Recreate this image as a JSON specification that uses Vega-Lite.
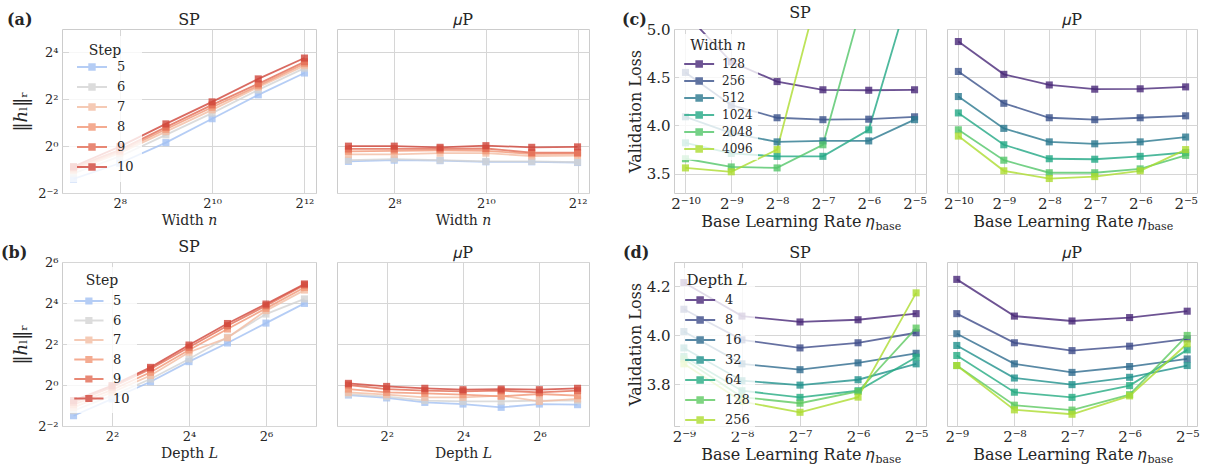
{
  "$schema": "https://vega.github.io/schema/vega-lite/v6.json",
  "padding": {"left": 0, "top": 4, "right": 0, "bottom": 0},
  "background": "white",
  "config": {
    "font": "DejaVu Serif",
    "view": {"stroke": "#cccccc", "strokeWidth": 1},
    "axis": {"domain": false, "ticks": false, "gridColor": "#d6d6d6", "gridWidth": 1, "labelColor": "#262626", "titleColor": "#262626", "titleFontWeight": "normal", "labelFontSize": 13, "titleFontSize": 14, "labelPadding": 4, "titlePadding": 3, "labelFlush": false, "labelOverlap": false},
    "title": {"fontSize": 16, "fontWeight": "normal", "color": "#262626", "offset": 1},
    "legend": {"titleFontWeight": "normal", "titleColor": "#262626", "labelColor": "#262626"}
  },
  "datasets": {
    "a": [
      {"param":"SP","step":5,"width":128,"norm":0.379},{"param":"SP","step":5,"width":256,"norm":0.603},{"param":"SP","step":5,"width":512,"norm":1.110},{"param":"SP","step":5,"width":1024,"norm":2.250},{"param":"SP","step":5,"width":2048,"norm":4.563},{"param":"SP","step":5,"width":4096,"norm":8.694},
      {"param":"SP","step":6,"width":128,"norm":0.447},{"param":"SP","step":6,"width":256,"norm":0.737},{"param":"SP","step":6,"width":512,"norm":1.395},{"param":"SP","step":6,"width":1024,"norm":2.657},{"param":"SP","step":6,"width":2048,"norm":5.278},{"param":"SP","step":6,"width":4096,"norm":10.06},
      {"param":"SP","step":7,"width":128,"norm":0.486},{"param":"SP","step":7,"width":256,"norm":0.812},{"param":"SP","step":7,"width":512,"norm":1.537},{"param":"SP","step":7,"width":1024,"norm":2.928},{"param":"SP","step":7,"width":2048,"norm":5.736},{"param":"SP","step":7,"width":4096,"norm":10.78},
      {"param":"SP","step":8,"width":128,"norm":0.511},{"param":"SP","step":8,"width":256,"norm":0.853},{"param":"SP","step":8,"width":512,"norm":1.647},{"param":"SP","step":8,"width":1024,"norm":3.160},{"param":"SP","step":8,"width":2048,"norm":5.979},{"param":"SP","step":8,"width":4096,"norm":11.47},
      {"param":"SP","step":9,"width":128,"norm":0.532},{"param":"SP","step":9,"width":256,"norm":0.895},{"param":"SP","step":9,"width":512,"norm":1.753},{"param":"SP","step":9,"width":1024,"norm":3.387},{"param":"SP","step":9,"width":2048,"norm":6.320},{"param":"SP","step":9,"width":4096,"norm":12.13},
      {"param":"SP","step":10,"width":128,"norm":0.547},{"param":"SP","step":10,"width":256,"norm":0.986},{"param":"SP","step":10,"width":512,"norm":1.932},{"param":"SP","step":10,"width":1024,"norm":3.706},{"param":"SP","step":10,"width":2048,"norm":7.311},{"param":"SP","step":10,"width":4096,"norm":13.55},
      {"param":"muP","step":5,"width":128,"norm":0.637},{"param":"muP","step":5,"width":256,"norm":0.660},{"param":"muP","step":5,"width":512,"norm":0.651},{"param":"muP","step":5,"width":1024,"norm":0.629},{"param":"muP","step":5,"width":2048,"norm":0.629},{"param":"muP","step":5,"width":4096,"norm":0.616},
      {"param":"muP","step":6,"width":128,"norm":0.660},{"param":"muP","step":6,"width":256,"norm":0.683},{"param":"muP","step":6,"width":512,"norm":0.660},{"param":"muP","step":6,"width":1024,"norm":0.637},{"param":"muP","step":6,"width":2048,"norm":0.637},{"param":"muP","step":6,"width":4096,"norm":0.624},
      {"param":"muP","step":7,"width":128,"norm":0.785},{"param":"muP","step":7,"width":256,"norm":0.785},{"param":"muP","step":7,"width":512,"norm":0.812},{"param":"muP","step":7,"width":1024,"norm":0.812},{"param":"muP","step":7,"width":2048,"norm":0.747},{"param":"muP","step":7,"width":4096,"norm":0.758},
      {"param":"muP","step":8,"width":128,"norm":0.858},{"param":"muP","step":8,"width":256,"norm":0.871},{"param":"muP","step":8,"width":512,"norm":0.883},{"param":"muP","step":8,"width":1024,"norm":0.871},{"param":"muP","step":8,"width":2048,"norm":0.796},{"param":"muP","step":8,"width":4096,"norm":0.801},
      {"param":"muP","step":9,"width":128,"norm":0.920},{"param":"muP","step":9,"width":256,"norm":0.920},{"param":"muP","step":9,"width":512,"norm":0.920},{"param":"muP","step":9,"width":1024,"norm":0.933},{"param":"muP","step":9,"width":2048,"norm":0.824},{"param":"muP","step":9,"width":4096,"norm":0.824},
      {"param":"muP","step":10,"width":128,"norm":1.0},{"param":"muP","step":10,"width":256,"norm":1.0},{"param":"muP","step":10,"width":512,"norm":0.966},{"param":"muP","step":10,"width":1024,"norm":1.014},{"param":"muP","step":10,"width":2048,"norm":0.966},{"param":"muP","step":10,"width":4096,"norm":0.979}
    ],
    "b": [
      {"param":"SP","step":5,"depth":2,"norm":0.354},{"param":"SP","step":5,"depth":4,"norm":0.624},{"param":"SP","step":5,"depth":8,"norm":1.117},{"param":"SP","step":5,"depth":16,"norm":2.204},{"param":"SP","step":5,"depth":32,"norm":4.141},{"param":"SP","step":5,"depth":64,"norm":8.111},{"param":"SP","step":5,"depth":128,"norm":15.78},
      {"param":"SP","step":6,"depth":2,"norm":0.420},{"param":"SP","step":6,"depth":4,"norm":0.697},{"param":"SP","step":6,"depth":8,"norm":1.223},{"param":"SP","step":6,"depth":16,"norm":2.412},{"param":"SP","step":6,"depth":32,"norm":5.028},{"param":"SP","step":6,"depth":64,"norm":11.00},{"param":"SP","step":6,"depth":128,"norm":18.38},
      {"param":"SP","step":7,"depth":2,"norm":0.470},{"param":"SP","step":7,"depth":4,"norm":0.779},{"param":"SP","step":7,"depth":8,"norm":1.376},{"param":"SP","step":7,"depth":16,"norm":3.031},{"param":"SP","step":7,"depth":32,"norm":4.925},{"param":"SP","step":7,"depth":64,"norm":12.38},{"param":"SP","step":7,"depth":128,"norm":24.76},
      {"param":"SP","step":8,"depth":2,"norm":0.514},{"param":"SP","step":8,"depth":4,"norm":0.847},{"param":"SP","step":8,"depth":8,"norm":1.537},{"param":"SP","step":8,"depth":16,"norm":3.272},{"param":"SP","step":8,"depth":32,"norm":6.634},{"param":"SP","step":8,"depth":64,"norm":13.36},{"param":"SP","step":8,"depth":128,"norm":27.09},
      {"param":"SP","step":9,"depth":2,"norm":0.555},{"param":"SP","step":9,"depth":4,"norm":0.927},{"param":"SP","step":9,"depth":8,"norm":1.717},{"param":"SP","step":9,"depth":16,"norm":3.580},{"param":"SP","step":9,"depth":32,"norm":7.413},{"param":"SP","step":9,"depth":64,"norm":14.62},{"param":"SP","step":9,"depth":128,"norm":29.45},
      {"param":"SP","step":10,"depth":2,"norm":0.590},{"param":"SP","step":10,"depth":4,"norm":0.979},{"param":"SP","step":10,"depth":8,"norm":1.815},{"param":"SP","step":10,"depth":16,"norm":3.864},{"param":"SP","step":10,"depth":32,"norm":8.0},{"param":"SP","step":10,"depth":64,"norm":15.45},{"param":"SP","step":10,"depth":128,"norm":30.49},
      {"param":"muP","step":5,"depth":2,"norm":0.712},{"param":"muP","step":5,"depth":4,"norm":0.646},{"param":"muP","step":5,"depth":8,"norm":0.555},{"param":"muP","step":5,"depth":16,"norm":0.525},{"param":"muP","step":5,"depth":32,"norm":0.470},{"param":"muP","step":5,"depth":64,"norm":0.525},{"param":"muP","step":5,"depth":128,"norm":0.514},
      {"param":"muP","step":6,"depth":2,"norm":0.737},{"param":"muP","step":6,"depth":4,"norm":0.674},{"param":"muP","step":6,"depth":8,"norm":0.590},{"param":"muP","step":6,"depth":16,"norm":0.574},{"param":"muP","step":6,"depth":32,"norm":0.574},{"param":"muP","step":6,"depth":64,"norm":0.590},{"param":"muP","step":6,"depth":128,"norm":0.590},
      {"param":"muP","step":7,"depth":2,"norm":0.779},{"param":"muP","step":7,"depth":4,"norm":0.722},{"param":"muP","step":7,"depth":8,"norm":0.660},{"param":"muP","step":7,"depth":16,"norm":0.660},{"param":"muP","step":7,"depth":32,"norm":0.697},{"param":"muP","step":7,"depth":64,"norm":0.574},{"param":"muP","step":7,"depth":128,"norm":0.624},
      {"param":"muP","step":8,"depth":2,"norm":0.871},{"param":"muP","step":8,"depth":4,"norm":0.779},{"param":"muP","step":8,"depth":8,"norm":0.753},{"param":"muP","step":8,"depth":16,"norm":0.722},{"param":"muP","step":8,"depth":32,"norm":0.683},{"param":"muP","step":8,"depth":64,"norm":0.737},{"param":"muP","step":8,"depth":128,"norm":0.697},
      {"param":"muP","step":9,"depth":2,"norm":1.0},{"param":"muP","step":9,"depth":4,"norm":0.871},{"param":"muP","step":9,"depth":8,"norm":0.824},{"param":"muP","step":9,"depth":16,"norm":0.807},{"param":"muP","step":9,"depth":32,"norm":0.824},{"param":"muP","step":9,"depth":64,"norm":0.779},{"param":"muP","step":9,"depth":128,"norm":0.824},
      {"param":"muP","step":10,"depth":2,"norm":1.057},{"param":"muP","step":10,"depth":4,"norm":0.953},{"param":"muP","step":10,"depth":8,"norm":0.895},{"param":"muP","step":10,"depth":16,"norm":0.853},{"param":"muP","step":10,"depth":32,"norm":0.871},{"param":"muP","step":10,"depth":64,"norm":0.853},{"param":"muP","step":10,"depth":128,"norm":0.895}
    ],
    "c": [
      {"param":"SP","width":128,"lr":0.0009765625,"loss":5.16},{"param":"SP","width":128,"lr":0.001953125,"loss":4.66},{"param":"SP","width":128,"lr":0.00390625,"loss":4.455},{"param":"SP","width":128,"lr":0.0078125,"loss":4.37},{"param":"SP","width":128,"lr":0.015625,"loss":4.365},{"param":"SP","width":128,"lr":0.03125,"loss":4.37},
      {"param":"SP","width":256,"lr":0.0009765625,"loss":4.55},{"param":"SP","width":256,"lr":0.001953125,"loss":4.21},{"param":"SP","width":256,"lr":0.00390625,"loss":4.08},{"param":"SP","width":256,"lr":0.0078125,"loss":4.06},{"param":"SP","width":256,"lr":0.015625,"loss":4.065},{"param":"SP","width":256,"lr":0.03125,"loss":4.09},
      {"param":"SP","width":512,"lr":0.0009765625,"loss":4.09},{"param":"SP","width":512,"lr":0.001953125,"loss":3.92},{"param":"SP","width":512,"lr":0.00390625,"loss":3.83},{"param":"SP","width":512,"lr":0.0078125,"loss":3.84},{"param":"SP","width":512,"lr":0.015625,"loss":3.84},{"param":"SP","width":512,"lr":0.03125,"loss":4.06},
      {"param":"SP","width":1024,"lr":0.0009765625,"loss":3.82},{"param":"SP","width":1024,"lr":0.001953125,"loss":3.71},{"param":"SP","width":1024,"lr":0.00390625,"loss":3.68},{"param":"SP","width":1024,"lr":0.0078125,"loss":3.68},{"param":"SP","width":1024,"lr":0.015625,"loss":3.955},{"param":"SP","width":1024,"lr":0.03125,"loss":5.56},
      {"param":"SP","width":2048,"lr":0.0009765625,"loss":3.655},{"param":"SP","width":2048,"lr":0.001953125,"loss":3.57},{"param":"SP","width":2048,"lr":0.00390625,"loss":3.56},{"param":"SP","width":2048,"lr":0.0078125,"loss":3.80},{"param":"SP","width":2048,"lr":0.015625,"loss":5.51},{"param":"SP","width":2048,"lr":0.03125,"loss":6.5},
      {"param":"SP","width":4096,"lr":0.0009765625,"loss":3.56},{"param":"SP","width":4096,"lr":0.001953125,"loss":3.52},{"param":"SP","width":4096,"lr":0.00390625,"loss":3.75},{"param":"SP","width":4096,"lr":0.0078125,"loss":5.57},{"param":"SP","width":4096,"lr":0.015625,"loss":6.5},{"param":"SP","width":4096,"lr":0.03125,"loss":6.5},
      {"param":"muP","width":128,"lr":0.0009765625,"loss":4.87},{"param":"muP","width":128,"lr":0.001953125,"loss":4.53},{"param":"muP","width":128,"lr":0.00390625,"loss":4.42},{"param":"muP","width":128,"lr":0.0078125,"loss":4.376},{"param":"muP","width":128,"lr":0.015625,"loss":4.38},{"param":"muP","width":128,"lr":0.03125,"loss":4.40},
      {"param":"muP","width":256,"lr":0.0009765625,"loss":4.56},{"param":"muP","width":256,"lr":0.001953125,"loss":4.23},{"param":"muP","width":256,"lr":0.00390625,"loss":4.08},{"param":"muP","width":256,"lr":0.0078125,"loss":4.06},{"param":"muP","width":256,"lr":0.015625,"loss":4.08},{"param":"muP","width":256,"lr":0.03125,"loss":4.10},
      {"param":"muP","width":512,"lr":0.0009765625,"loss":4.30},{"param":"muP","width":512,"lr":0.001953125,"loss":3.97},{"param":"muP","width":512,"lr":0.00390625,"loss":3.83},{"param":"muP","width":512,"lr":0.0078125,"loss":3.81},{"param":"muP","width":512,"lr":0.015625,"loss":3.83},{"param":"muP","width":512,"lr":0.03125,"loss":3.88},
      {"param":"muP","width":1024,"lr":0.0009765625,"loss":4.13},{"param":"muP","width":1024,"lr":0.001953125,"loss":3.80},{"param":"muP","width":1024,"lr":0.00390625,"loss":3.655},{"param":"muP","width":1024,"lr":0.0078125,"loss":3.65},{"param":"muP","width":1024,"lr":0.015625,"loss":3.68},{"param":"muP","width":1024,"lr":0.03125,"loss":3.72},
      {"param":"muP","width":2048,"lr":0.0009765625,"loss":3.955},{"param":"muP","width":2048,"lr":0.001953125,"loss":3.64},{"param":"muP","width":2048,"lr":0.00390625,"loss":3.51},{"param":"muP","width":2048,"lr":0.0078125,"loss":3.51},{"param":"muP","width":2048,"lr":0.015625,"loss":3.55},{"param":"muP","width":2048,"lr":0.03125,"loss":3.69},
      {"param":"muP","width":4096,"lr":0.0009765625,"loss":3.89},{"param":"muP","width":4096,"lr":0.001953125,"loss":3.53},{"param":"muP","width":4096,"lr":0.00390625,"loss":3.45},{"param":"muP","width":4096,"lr":0.0078125,"loss":3.47},{"param":"muP","width":4096,"lr":0.015625,"loss":3.53},{"param":"muP","width":4096,"lr":0.03125,"loss":3.75}
    ],
    "d": [
      {"param":"SP","depth":4,"lr":0.001953125,"loss":4.216},{"param":"SP","depth":4,"lr":0.00390625,"loss":4.079},{"param":"SP","depth":4,"lr":0.0078125,"loss":4.055},{"param":"SP","depth":4,"lr":0.015625,"loss":4.064},{"param":"SP","depth":4,"lr":0.03125,"loss":4.089},
      {"param":"SP","depth":8,"lr":0.001953125,"loss":4.107},{"param":"SP","depth":8,"lr":0.00390625,"loss":3.982},{"param":"SP","depth":8,"lr":0.0078125,"loss":3.949},{"param":"SP","depth":8,"lr":0.015625,"loss":3.97},{"param":"SP","depth":8,"lr":0.03125,"loss":4.011},
      {"param":"SP","depth":16,"lr":0.001953125,"loss":4.016},{"param":"SP","depth":16,"lr":0.00390625,"loss":3.884},{"param":"SP","depth":16,"lr":0.0078125,"loss":3.86},{"param":"SP","depth":16,"lr":0.015625,"loss":3.888},{"param":"SP","depth":16,"lr":0.03125,"loss":3.927},
      {"param":"SP","depth":32,"lr":0.001953125,"loss":3.949},{"param":"SP","depth":32,"lr":0.00390625,"loss":3.815},{"param":"SP","depth":32,"lr":0.0078125,"loss":3.797},{"param":"SP","depth":32,"lr":0.015625,"loss":3.819},{"param":"SP","depth":32,"lr":0.03125,"loss":3.884},
      {"param":"SP","depth":64,"lr":0.001953125,"loss":3.914},{"param":"SP","depth":64,"lr":0.00390625,"loss":3.774},{"param":"SP","depth":64,"lr":0.0078125,"loss":3.747},{"param":"SP","depth":64,"lr":0.015625,"loss":3.774},{"param":"SP","depth":64,"lr":0.03125,"loss":3.911},
      {"param":"SP","depth":128,"lr":0.001953125,"loss":3.904},{"param":"SP","depth":128,"lr":0.00390625,"loss":3.748},{"param":"SP","depth":128,"lr":0.0078125,"loss":3.723},{"param":"SP","depth":128,"lr":0.015625,"loss":3.771},{"param":"SP","depth":128,"lr":0.03125,"loss":4.03},
      {"param":"SP","depth":256,"lr":0.001953125,"loss":3.884},{"param":"SP","depth":256,"lr":0.00390625,"loss":3.73},{"param":"SP","depth":256,"lr":0.0078125,"loss":3.686},{"param":"SP","depth":256,"lr":0.015625,"loss":3.748},{"param":"SP","depth":256,"lr":0.03125,"loss":4.174},
      {"param":"muP","depth":4,"lr":0.001953125,"loss":4.229},{"param":"muP","depth":4,"lr":0.00390625,"loss":4.079},{"param":"muP","depth":4,"lr":0.0078125,"loss":4.059},{"param":"muP","depth":4,"lr":0.015625,"loss":4.073},{"param":"muP","depth":4,"lr":0.03125,"loss":4.099},
      {"param":"muP","depth":8,"lr":0.001953125,"loss":4.089},{"param":"muP","depth":8,"lr":0.00390625,"loss":3.97},{"param":"muP","depth":8,"lr":0.0078125,"loss":3.938},{"param":"muP","depth":8,"lr":0.015625,"loss":3.956},{"param":"muP","depth":8,"lr":0.03125,"loss":3.986},
      {"param":"muP","depth":16,"lr":0.001953125,"loss":4.007},{"param":"muP","depth":16,"lr":0.00390625,"loss":3.884},{"param":"muP","depth":16,"lr":0.0078125,"loss":3.849},{"param":"muP","depth":16,"lr":0.015625,"loss":3.873},{"param":"muP","depth":16,"lr":0.03125,"loss":3.904},
      {"param":"muP","depth":32,"lr":0.001953125,"loss":3.959},{"param":"muP","depth":32,"lr":0.00390625,"loss":3.826},{"param":"muP","depth":32,"lr":0.0078125,"loss":3.799},{"param":"muP","depth":32,"lr":0.015625,"loss":3.829},{"param":"muP","depth":32,"lr":0.03125,"loss":3.877},
      {"param":"muP","depth":64,"lr":0.001953125,"loss":3.918},{"param":"muP","depth":64,"lr":0.00390625,"loss":3.768},{"param":"muP","depth":64,"lr":0.0078125,"loss":3.747},{"param":"muP","depth":64,"lr":0.015625,"loss":3.795},{"param":"muP","depth":64,"lr":0.03125,"loss":3.941},
      {"param":"muP","depth":128,"lr":0.001953125,"loss":3.877},{"param":"muP","depth":128,"lr":0.00390625,"loss":3.715},{"param":"muP","depth":128,"lr":0.0078125,"loss":3.695},{"param":"muP","depth":128,"lr":0.015625,"loss":3.758},{"param":"muP","depth":128,"lr":0.03125,"loss":4.0},
      {"param":"muP","depth":256,"lr":0.001953125,"loss":3.877},{"param":"muP","depth":256,"lr":0.00390625,"loss":3.696},{"param":"muP","depth":256,"lr":0.0078125,"loss":3.678},{"param":"muP","depth":256,"lr":0.015625,"loss":3.753},{"param":"muP","depth":256,"lr":0.03125,"loss":3.966}
    ]
  },
  "bounds": "flush",
  "columns": 6,
  "spacing": {"row": 69, "column": 21},
  "resolve": {"scale": {"color": "independent"}, "legend": {"color": "independent"}},
  "concat": [
    {
      "width": 41, "height": 164,
      "title": {"text": "(a)", "anchor": "start", "fontWeight": "bold", "fontSize": 16, "dx": 7},
      "view": {"stroke": null},
      "data": {"values": []},
      "mark": "point"
    },
    {
      "width": 254, "height": 164, "title": "SP",
      "data": {"name": "a"},
      "transform": [{"filter": "datum.param === 'SP'"}],
      "encoding": {
        "x": {"field": "width", "type": "quantitative", "scale": {"type": "log", "base": 2, "domain": [107.635, 4871], "nice": false}, "axis": {"values": [256, 1024, 4096], "title": "Width 𝑛", "labelExpr": "'2' + replace(replace(replace(replace(replace(replace(replace(replace(replace(replace(replace('' + round(log(datum.value) / LN2), '-', '⁻'), '0', '⁰'), '1', '¹'), '2', '²'), '3', '³'), '4', '⁴'), '5', '⁵'), '6', '⁶'), '7', '⁷'), '8', '⁸'), '9', '⁹')"}},
        "y": {"field": "norm", "type": "quantitative", "scale": {"type": "log", "base": 2, "domain": [0.25, 32], "nice": false}, "axis": {"values": [0.25, 1, 4, 16], "title": "‖ℎₗ‖ᵣ", "titleFontSize": 18, "titlePadding": 7, "labelExpr": "'2' + replace(replace(replace(replace(replace(replace(replace(replace(replace(replace(replace('' + round(log(datum.value) / LN2), '-', '⁻'), '0', '⁰'), '1', '¹'), '2', '²'), '3', '³'), '4', '⁴'), '5', '⁵'), '6', '⁶'), '7', '⁷'), '8', '⁸'), '9', '⁹')"}},
        "color": {"field": "step", "type": "ordinal", "scale": {"domain": [5, 6, 7, 8, 9, 10], "range": ["#a2c0f2", "#d3d3d3", "#f2bda2", "#f19676", "#e26a52", "#cf4539"]}, "legend": {"title": "Step", "orient": "top-left", "offset": 7, "padding": 8, "fillColor": "rgba(255,255,255,0.8)", "titleAnchor": "middle", "symbolType": "M-1,-0.09H2V0.09H-1Z M0.13,-0.37H0.87V0.37H0.13Z", "symbolSize": 400, "symbolStrokeWidth": 0, "labelFontSize": 13, "titleFontSize": 14, "labelOffset": 20, "titlePadding": -1, "rowPadding": 3}}
      },
      "layer": [
        {"mark": {"type": "line", "strokeWidth": 1.8, "opacity": 0.8}},
        {"mark": {"type": "square", "size": 50, "opacity": 0.8}}
      ]
    },
    {
      "width": 252, "height": 164, "title": "𝜇P",
      "data": {"name": "a"},
      "transform": [{"filter": "datum.param === 'muP'"}],
      "encoding": {
        "x": {"field": "width", "type": "quantitative", "scale": {"type": "log", "base": 2, "domain": [107.635, 4871], "nice": false}, "axis": {"values": [256, 1024, 4096], "title": "Width 𝑛", "labelExpr": "'2' + replace(replace(replace(replace(replace(replace(replace(replace(replace(replace(replace('' + round(log(datum.value) / LN2), '-', '⁻'), '0', '⁰'), '1', '¹'), '2', '²'), '3', '³'), '4', '⁴'), '5', '⁵'), '6', '⁶'), '7', '⁷'), '8', '⁸'), '9', '⁹')"}},
        "y": {"field": "norm", "type": "quantitative", "scale": {"type": "log", "base": 2, "domain": [0.25, 32], "nice": false}, "axis": {"values": [0.25, 1, 4, 16], "title": null, "labels": false}},
        "color": {"field": "step", "type": "ordinal", "scale": {"domain": [5, 6, 7, 8, 9, 10], "range": ["#a2c0f2", "#d3d3d3", "#f2bda2", "#f19676", "#e26a52", "#cf4539"]}, "legend": null}
      },
      "layer": [
        {"mark": {"type": "line", "strokeWidth": 1.8, "opacity": 0.8}},
        {"mark": {"type": "square", "size": 50, "opacity": 0.8}}
      ]
    },
    {
      "width": 43, "height": 164,
      "title": {"text": "(c)", "anchor": "start", "fontWeight": "bold", "fontSize": 16, "dx": 12},
      "view": {"stroke": null},
      "data": {"values": []},
      "mark": "point"
    },
    {
      "width": 252, "height": 164, "title": "SP",
      "data": {"name": "c"},
      "transform": [{"filter": "datum.param === 'SP'"}],
      "resolve": {"axis": {"x": "independent"}},
      "encoding": {
        "y": {"field": "loss", "type": "quantitative", "scale": {"domain": [3.3, 5.0], "nice": false, "zero": false}, "axis": {"values": [3.5, 4.0, 4.5, 5.0], "format": ".1f", "title": "Validation Loss", "labelFontSize": 15, "titleFontSize": 16}},
        "color": {"field": "width", "type": "ordinal", "scale": {"domain": [128, 256, 512, 1024, 2048, 4096], "range": ["#482878", "#3b528b", "#2a788e", "#22a884", "#52c569", "#addc30"]}, "legend": {"title": "Width 𝑛", "orient": "top-left", "offset": 5, "padding": 5, "fillColor": "rgba(255,255,255,0.8)", "titleAnchor": "middle", "symbolType": "M-1,-0.1H2.4V0.1H-1Z M0.27,-0.43H1.13V0.43H0.27Z", "symbolSize": 310, "symbolStrokeWidth": 0, "labelFontSize": 12, "titleFontSize": 14, "labelOffset": 20, "titlePadding": 2, "rowPadding": 2}}
      },
      "layer": [
        {"mark": {"type": "line", "strokeWidth": 1.8, "opacity": 0.8, "clip": true}, "encoding": {
          "x": {"field": "lr", "type": "quantitative", "scale": {"type": "log", "base": 2, "domain": [0.00082119, 0.037163], "nice": false}, "axis": {"orient": "bottom", "values": [0.0009765625, 0.001953125, 0.00390625, 0.0078125, 0.015625, 0.03125], "title": "Base Learning Rate 𝜂", "titleX": 200, "titleY": 33, "titleAlign": "right", "titleBaseline": "alphabetic", "labelFontSize": 15, "titleFontSize": 16, "labelPadding": 3, "labelExpr": "'2' + replace(replace(replace(replace(replace(replace(replace(replace(replace(replace(replace('' + round(log(datum.value) / LN2), '-', '⁻'), '0', '⁰'), '1', '¹'), '2', '²'), '3', '³'), '4', '⁴'), '5', '⁵'), '6', '⁶'), '7', '⁷'), '8', '⁸'), '9', '⁹')"}}}},
        {"mark": {"type": "square", "size": 50, "opacity": 0.8, "clip": true}, "encoding": {
          "x": {"field": "lr", "type": "quantitative", "scale": {"type": "log", "base": 2, "domain": [0.00082119, 0.037163], "nice": false}, "axis": null}}},
        {"mark": {"type": "point", "opacity": 0, "clip": true}, "encoding": {
          "x": {"field": "lr", "type": "quantitative", "scale": {"type": "log", "base": 2, "domain": [0.00082119, 0.037163], "nice": false}, "axis": {"orient": "bottom", "title": "base", "titleX": 201, "titleY": 36.5, "titleAlign": "left", "titleBaseline": "alphabetic", "titleFontSize": 11, "labels": false, "grid": false, "ticks": false, "domain": false}}}}
      ]
    },
    {
      "width": 250, "height": 164, "title": "𝜇P",
      "data": {"name": "c"},
      "transform": [{"filter": "datum.param === 'muP'"}],
      "resolve": {"axis": {"x": "independent"}},
      "encoding": {
        "y": {"field": "loss", "type": "quantitative", "scale": {"domain": [3.3, 5.0], "nice": false, "zero": false}, "axis": {"values": [3.5, 4.0, 4.5, 5.0], "title": null, "labels": false}},
        "color": {"field": "width", "type": "ordinal", "scale": {"domain": [128, 256, 512, 1024, 2048, 4096], "range": ["#482878", "#3b528b", "#2a788e", "#22a884", "#52c569", "#addc30"]}, "legend": null}
      },
      "layer": [
        {"mark": {"type": "line", "strokeWidth": 1.8, "opacity": 0.8, "clip": true}, "encoding": {
          "x": {"field": "lr", "type": "quantitative", "scale": {"type": "log", "base": 2, "domain": [0.00082119, 0.037163], "nice": false}, "axis": {"orient": "bottom", "values": [0.0009765625, 0.001953125, 0.00390625, 0.0078125, 0.015625, 0.03125], "title": "Base Learning Rate 𝜂", "titleX": 199, "titleY": 33, "titleAlign": "right", "titleBaseline": "alphabetic", "labelFontSize": 15, "titleFontSize": 16, "labelPadding": 3, "labelExpr": "'2' + replace(replace(replace(replace(replace(replace(replace(replace(replace(replace(replace('' + round(log(datum.value) / LN2), '-', '⁻'), '0', '⁰'), '1', '¹'), '2', '²'), '3', '³'), '4', '⁴'), '5', '⁵'), '6', '⁶'), '7', '⁷'), '8', '⁸'), '9', '⁹')"}}}},
        {"mark": {"type": "square", "size": 50, "opacity": 0.8, "clip": true}, "encoding": {
          "x": {"field": "lr", "type": "quantitative", "scale": {"type": "log", "base": 2, "domain": [0.00082119, 0.037163], "nice": false}, "axis": null}}},
        {"mark": {"type": "point", "opacity": 0, "clip": true}, "encoding": {
          "x": {"field": "lr", "type": "quantitative", "scale": {"type": "log", "base": 2, "domain": [0.00082119, 0.037163], "nice": false}, "axis": {"orient": "bottom", "title": "base", "titleX": 200, "titleY": 36.5, "titleAlign": "left", "titleBaseline": "alphabetic", "titleFontSize": 11, "labels": false, "grid": false, "ticks": false, "domain": false}}}}
      ]
    },
    {
      "width": 41, "height": 164,
      "title": {"text": "(b)", "anchor": "start", "fontWeight": "bold", "fontSize": 16, "dx": 1},
      "view": {"stroke": null},
      "data": {"values": []},
      "mark": "point"
    },
    {
      "width": 254, "height": 164, "title": "SP",
      "data": {"name": "b"},
      "transform": [{"filter": "datum.param === 'SP'"}],
      "encoding": {
        "x": {"field": "depth", "type": "quantitative", "scale": {"type": "log", "base": 2, "domain": [1.6245, 157.58], "nice": false}, "axis": {"values": [4, 16, 64], "title": "Depth 𝐿", "labelExpr": "'2' + replace(replace(replace(replace(replace(replace(replace(replace(replace(replace(replace('' + round(log(datum.value) / LN2), '-', '⁻'), '0', '⁰'), '1', '¹'), '2', '²'), '3', '³'), '4', '⁴'), '5', '⁵'), '6', '⁶'), '7', '⁷'), '8', '⁸'), '9', '⁹')"}},
        "y": {"field": "norm", "type": "quantitative", "scale": {"type": "log", "base": 2, "domain": [0.25, 64], "nice": false}, "axis": {"values": [0.25, 1, 4, 16, 64], "title": "‖ℎₗ‖ᵣ", "titleFontSize": 18, "titlePadding": 7, "labelExpr": "'2' + replace(replace(replace(replace(replace(replace(replace(replace(replace(replace(replace('' + round(log(datum.value) / LN2), '-', '⁻'), '0', '⁰'), '1', '¹'), '2', '²'), '3', '³'), '4', '⁴'), '5', '⁵'), '6', '⁶'), '7', '⁷'), '8', '⁸'), '9', '⁹')"}},
        "color": {"field": "step", "type": "ordinal", "scale": {"domain": [5, 6, 7, 8, 9, 10], "range": ["#a2c0f2", "#d3d3d3", "#f2bda2", "#f19676", "#e26a52", "#cf4539"]}, "legend": {"title": "Step", "orient": "top-left", "offset": 5, "padding": 7, "fillColor": "rgba(255,255,255,0.8)", "titleAnchor": "middle", "symbolType": "M-1,-0.09H2V0.09H-1Z M0.13,-0.37H0.87V0.37H0.13Z", "symbolSize": 380, "symbolStrokeWidth": 0, "labelFontSize": 13, "titleFontSize": 14, "labelOffset": 19, "titlePadding": 3, "rowPadding": 2.5}}
      },
      "layer": [
        {"mark": {"type": "line", "strokeWidth": 1.8, "opacity": 0.8}},
        {"mark": {"type": "square", "size": 50, "opacity": 0.8}}
      ]
    },
    {
      "width": 252, "height": 164, "title": "𝜇P",
      "data": {"name": "b"},
      "transform": [{"filter": "datum.param === 'muP'"}],
      "encoding": {
        "x": {"field": "depth", "type": "quantitative", "scale": {"type": "log", "base": 2, "domain": [1.6245, 157.58], "nice": false}, "axis": {"values": [4, 16, 64], "title": "Depth 𝐿", "labelExpr": "'2' + replace(replace(replace(replace(replace(replace(replace(replace(replace(replace(replace('' + round(log(datum.value) / LN2), '-', '⁻'), '0', '⁰'), '1', '¹'), '2', '²'), '3', '³'), '4', '⁴'), '5', '⁵'), '6', '⁶'), '7', '⁷'), '8', '⁸'), '9', '⁹')"}},
        "y": {"field": "norm", "type": "quantitative", "scale": {"type": "log", "base": 2, "domain": [0.25, 64], "nice": false}, "axis": {"values": [0.25, 1, 4, 16, 64], "title": null, "labels": false}},
        "color": {"field": "step", "type": "ordinal", "scale": {"domain": [5, 6, 7, 8, 9, 10], "range": ["#a2c0f2", "#d3d3d3", "#f2bda2", "#f19676", "#e26a52", "#cf4539"]}, "legend": null}
      },
      "layer": [
        {"mark": {"type": "line", "strokeWidth": 1.8, "opacity": 0.8}},
        {"mark": {"type": "square", "size": 50, "opacity": 0.8}}
      ]
    },
    {
      "width": 43, "height": 164,
      "title": {"text": "(d)", "anchor": "start", "fontWeight": "bold", "fontSize": 16, "dx": 13},
      "view": {"stroke": null},
      "data": {"values": []},
      "mark": "point"
    },
    {
      "width": 252, "height": 164, "title": "SP",
      "data": {"name": "d"},
      "transform": [{"filter": "datum.param === 'SP'"}],
      "resolve": {"axis": {"x": "independent"}},
      "encoding": {
        "y": {"field": "loss", "type": "quantitative", "scale": {"domain": [3.63, 4.3], "nice": false, "zero": false}, "axis": {"values": [3.8, 4.0, 4.2], "format": ".1f", "title": "Validation Loss", "labelFontSize": 15, "titleFontSize": 16}},
        "color": {"field": "depth", "type": "ordinal", "scale": {"domain": [4, 8, 16, 32, 64, 128, 256], "range": ["#482878", "#3e4c8a", "#2f6c8e", "#21918c", "#25ab82", "#5ec962", "#addc30"]}, "legend": {"title": "Depth 𝐿", "orient": "top-left", "offset": 6, "padding": 5, "fillColor": "rgba(255,255,255,0.8)", "titleAnchor": "middle", "symbolType": "M-1,-0.1H2.05V0.1H-1Z M0.14,-0.38H0.9V0.38H0.14Z", "symbolSize": 388, "symbolStrokeWidth": 0, "labelFontSize": 13, "titleFontSize": 15, "labelOffset": 20, "titlePadding": 2, "rowPadding": 3}}
      },
      "layer": [
        {"mark": {"type": "line", "strokeWidth": 1.8, "opacity": 0.8, "clip": true}, "encoding": {
          "x": {"field": "lr", "type": "quantitative", "scale": {"type": "log", "base": 2, "domain": [0.001736, 0.035159], "nice": false}, "axis": {"orient": "bottom", "values": [0.001953125, 0.00390625, 0.0078125, 0.015625, 0.03125], "title": "Base Learning Rate 𝜂", "titleX": 200, "titleY": 33, "titleAlign": "right", "titleBaseline": "alphabetic", "labelFontSize": 15, "titleFontSize": 16, "labelPadding": 3, "labelExpr": "'2' + replace(replace(replace(replace(replace(replace(replace(replace(replace(replace(replace('' + round(log(datum.value) / LN2), '-', '⁻'), '0', '⁰'), '1', '¹'), '2', '²'), '3', '³'), '4', '⁴'), '5', '⁵'), '6', '⁶'), '7', '⁷'), '8', '⁸'), '9', '⁹')"}}}},
        {"mark": {"type": "square", "size": 50, "opacity": 0.8, "clip": true}, "encoding": {
          "x": {"field": "lr", "type": "quantitative", "scale": {"type": "log", "base": 2, "domain": [0.001736, 0.035159], "nice": false}, "axis": null}}},
        {"mark": {"type": "point", "opacity": 0, "clip": true}, "encoding": {
          "x": {"field": "lr", "type": "quantitative", "scale": {"type": "log", "base": 2, "domain": [0.001736, 0.035159], "nice": false}, "axis": {"orient": "bottom", "title": "base", "titleX": 201, "titleY": 36.5, "titleAlign": "left", "titleBaseline": "alphabetic", "titleFontSize": 11, "labels": false, "grid": false, "ticks": false, "domain": false}}}}
      ]
    },
    {
      "width": 250, "height": 164, "title": "𝜇P",
      "data": {"name": "d"},
      "transform": [{"filter": "datum.param === 'muP'"}],
      "resolve": {"axis": {"x": "independent"}},
      "encoding": {
        "y": {"field": "loss", "type": "quantitative", "scale": {"domain": [3.63, 4.3], "nice": false, "zero": false}, "axis": {"values": [3.8, 4.0, 4.2], "title": null, "labels": false}},
        "color": {"field": "depth", "type": "ordinal", "scale": {"domain": [4, 8, 16, 32, 64, 128, 256], "range": ["#482878", "#3e4c8a", "#2f6c8e", "#21918c", "#25ab82", "#5ec962", "#addc30"]}, "legend": null}
      },
      "layer": [
        {"mark": {"type": "line", "strokeWidth": 1.8, "opacity": 0.8, "clip": true}, "encoding": {
          "x": {"field": "lr", "type": "quantitative", "scale": {"type": "log", "base": 2, "domain": [0.001736, 0.035159], "nice": false}, "axis": {"orient": "bottom", "values": [0.001953125, 0.00390625, 0.0078125, 0.015625, 0.03125], "title": "Base Learning Rate 𝜂", "titleX": 199, "titleY": 33, "titleAlign": "right", "titleBaseline": "alphabetic", "labelFontSize": 15, "titleFontSize": 16, "labelPadding": 3, "labelExpr": "'2' + replace(replace(replace(replace(replace(replace(replace(replace(replace(replace(replace('' + round(log(datum.value) / LN2), '-', '⁻'), '0', '⁰'), '1', '¹'), '2', '²'), '3', '³'), '4', '⁴'), '5', '⁵'), '6', '⁶'), '7', '⁷'), '8', '⁸'), '9', '⁹')"}}}},
        {"mark": {"type": "square", "size": 50, "opacity": 0.8, "clip": true}, "encoding": {
          "x": {"field": "lr", "type": "quantitative", "scale": {"type": "log", "base": 2, "domain": [0.001736, 0.035159], "nice": false}, "axis": null}}},
        {"mark": {"type": "point", "opacity": 0, "clip": true}, "encoding": {
          "x": {"field": "lr", "type": "quantitative", "scale": {"type": "log", "base": 2, "domain": [0.001736, 0.035159], "nice": false}, "axis": {"orient": "bottom", "title": "base", "titleX": 200, "titleY": 36.5, "titleAlign": "left", "titleBaseline": "alphabetic", "titleFontSize": 11, "labels": false, "grid": false, "ticks": false, "domain": false}}}}
      ]
    }
  ]
}
